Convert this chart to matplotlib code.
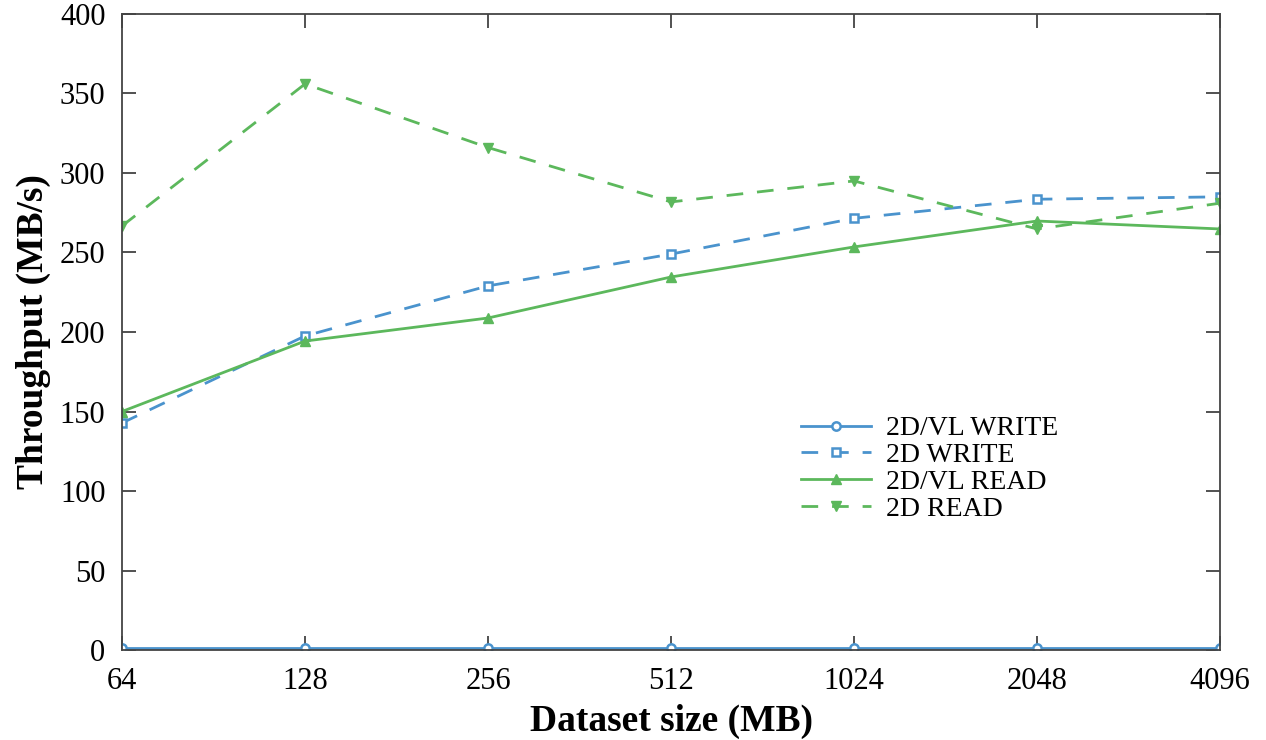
import matplotlib
matplotlib.use("Agg")
import matplotlib.pyplot as plt

sizes = ["64", "128", "256", "512", "1024", "2048", "4096"]
vl_write = [1.5, 1.5, 1.5, 1.5, 1.5, 1.5, 1.5]
d2_write = [142.8, 197.5, 229, 249, 271.5, 283.5, 285]
vl_read = [150, 194.3, 208.8, 234.6, 253.5, 269.8, 264.8]
d2_read = [266.7, 356, 316, 281.8, 295, 264.8, 281]

blue = "#4a93cd"
green = "#5cb85c"

plt.rcParams['font.family'] = ['Liberation Serif', 'DejaVu Serif']

fig = plt.figure(figsize=(12.66, 7.40), dpi=100)
ax = fig.add_axes([0.0964, 0.1216, 0.8673, 0.8595])
x = list(range(len(sizes)))

ax.plot(x, vl_write, color=blue, lw=2, marker='o', ms=6, mfc='white', mew=1.8, label="2D/VL WRITE")
ax.plot(x, d2_write, color=blue, lw=2, ls=(0, (6, 5)), marker='s', ms=6, mfc='white', mew=1.8, label="2D WRITE")
ax.plot(x, vl_read, color=green, lw=2, marker='^', ms=7, label="2D/VL READ")
ax.plot(x, d2_read, color=green, lw=2, ls=(0, (6, 5)), marker='v', ms=7, label="2D READ")

ax.set_xlim(0, len(sizes) - 1)
ax.set_ylim(0, 400)
ax.set_xticks(x)
ax.set_xticklabels(sizes)
ax.set_yticks(range(0, 401, 50))
ax.tick_params(direction='in', length=10, width=1.2, labelsize=22, top=True, right=True,
               colors='#333333', labelcolor='black')
ax.tick_params(axis='x', pad=12)
ax.tick_params(axis='y', pad=12)
for s in ax.spines.values():
    s.set_color('#444444')
    s.set_linewidth(1.3)

ax.set_xlabel("Dataset size (MB)", fontsize=27, fontweight='bold', labelpad=6)
ax.set_ylabel("Throughput (MB/s)", fontsize=27, fontweight='bold', labelpad=6)

ax.legend(loc='upper left', bbox_to_anchor=(0.606, 0.39), frameon=False, fontsize=20,
          handlelength=2.5, handletextpad=0.55, labelspacing=0.05, borderpad=0)

fig.savefig("out.png", dpi=100)
